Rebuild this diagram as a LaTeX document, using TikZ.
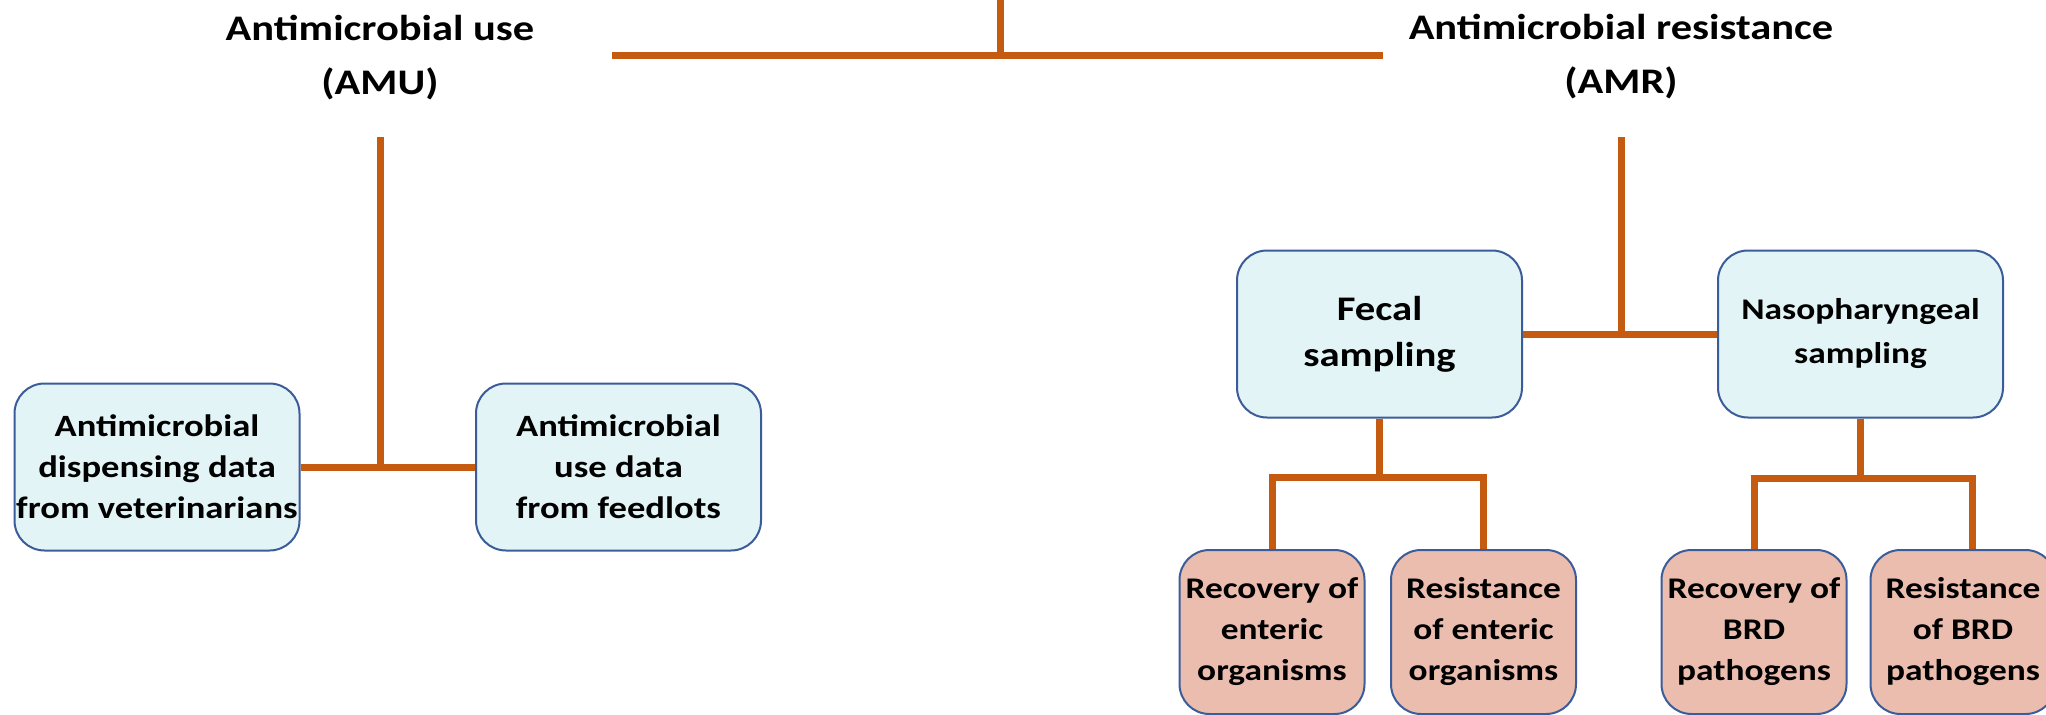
\documentclass[tikz,border=0pt]{standalone}
\usepackage{fontspec}
\setmainfont{Carlito}[FakeStretch=1.18]
\definecolor{connc}{HTML}{C55A11}
\definecolor{boxline}{HTML}{3B5C9A}
\definecolor{cyanfill}{HTML}{E2F4F5}
\definecolor{pinkfill}{HTML}{EBBDAE}
\begin{document}
\begin{tikzpicture}[x=1pt,y=-1pt,
  conn/.style={draw=connc, line width=7pt},
  basebox/.style={draw=boxline, line width=2pt, rounded corners=30pt, align=center, inner sep=0pt},
  bluebox/.style={basebox, fill=cyanfill, minimum width=285pt, minimum height=167pt, font=\fontsize{31}{41}\selectfont\bfseries},
  pinkbox/.style={basebox, fill=pinkfill, minimum width=185pt, minimum height=164pt, font=\fontsize{30}{41}\selectfont\bfseries},
  title/.style={align=center, inner sep=0pt, font=\fontsize{36}{54}\selectfont\bfseries}
]
\useasboundingbox (0,0) rectangle (2046,715);

% titles
\node[title] (amu) at (380,58) {Antimicrobial use\\(AMU)};
\node[title] (amr) at (1621,57) {Antimicrobial resistance\\(AMR)};

% top connector
\coordinate (topin) at (1000,0);
\coordinate (hl) at (612,55);
\coordinate (hr) at (1383,55);
\draw[conn] (hl) -- (hr);
\draw[conn] (topin) -- (topin |- hl);

% AMU branch
\node[bluebox] (vet) at (157,467) {Antimicrobial\\dispensing data\\from veterinarians};
\node[bluebox] (feed) at (618.5,467) {Antimicrobial\\use data\\from feedlots};
\coordinate (amudrop) at (380,137);
\draw[conn] (vet.east) -- (feed.west);
\draw[conn] (amudrop) -- (amudrop |- vet.east);

% AMR branch
\node[bluebox, font=\fontsize{34.5}{46}\selectfont\bfseries] (fecal) at (1379.5,334) {Fecal\\sampling};
\node[bluebox, font=\fontsize{30}{44}\selectfont\bfseries] (naso) at (1860.5,334) {Nasopharyngeal\\sampling};
\coordinate (amrdrop) at (1621,137);
\draw[conn] (fecal.east) -- (naso.west);
\draw[conn] (amrdrop) -- (amrdrop |- fecal.east);

% bottom boxes
\node[pinkbox] (recent) at (1272,632) {Recovery of\\enteric\\organisms};
\node[pinkbox] (resent) at (1483.5,632) {Resistance\\of enteric\\organisms};
\node[pinkbox] (recbrd) at (1754,632) {Recovery of\\BRD\\pathogens};
\node[pinkbox] (resbrd) at (1963,632) {Resistance\\of BRD\\pathogens};

% fecal bracket
\coordinate (fj) at (1379.5,477);
\draw[conn] (fecal.south) -- (fj);
\draw[conn] (recent.north) -- (recent.north |- fj) -- (resent.north |- fj) -- (resent.north);

% naso bracket
\coordinate (nj) at (1860.5,478);
\coordinate (dleg) at ([xshift=9pt]resbrd.north);
\draw[conn] (naso.south) -- (nj);
\draw[conn] (recbrd.north) -- (recbrd.north |- nj) -- (dleg |- nj) -- (dleg);
\end{tikzpicture}
\end{document}
